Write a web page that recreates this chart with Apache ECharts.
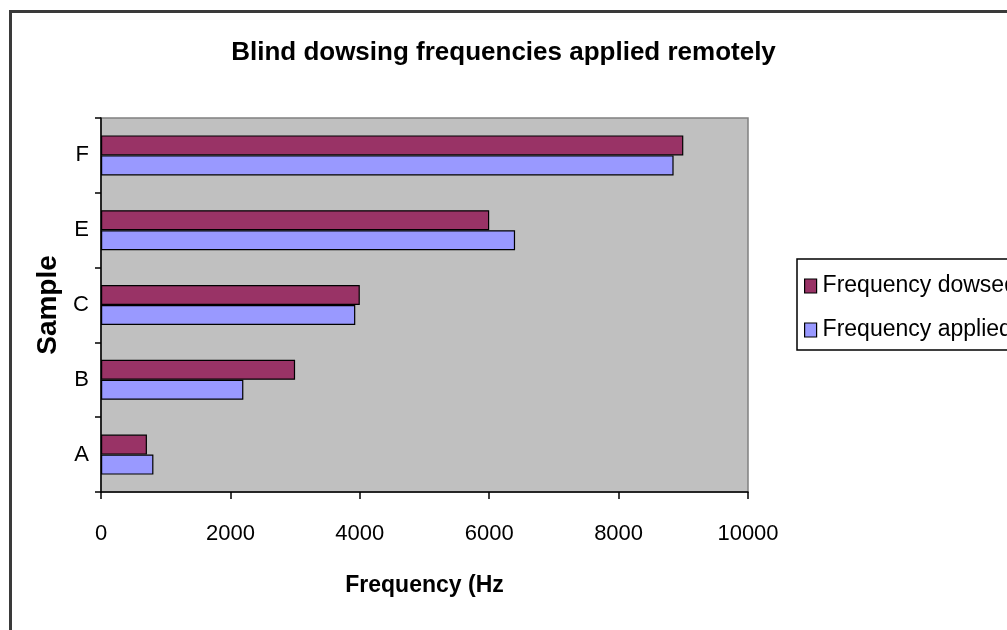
<!DOCTYPE html>
<html>
<head>
<meta charset="utf-8">
<title>Blind dowsing frequencies applied remotely</title>
<script src="https://cdn.jsdelivr.net/npm/echarts@6/dist/echarts.min.js"></script>
<style>
  html, body { margin: 0; padding: 0; background: #fff; }
  #chart { width: 1007px; height: 630px; }
</style>
</head>
<body>
<div id="chart"></div>
<script>
// Samples, bottom to top
const categories = ['A', 'B', 'C', 'E', 'F'];
// Frequencies in Hz
const dowsed = [710, 3000, 4000, 6000, 9000];
const applied = [810, 2200, 3930, 6400, 8850];
const xTicks = [0, 2000, 4000, 6000, 8000, 10000];

const font = '"Liberation Sans", Arial, sans-serif';

const chart = echarts.init(document.getElementById('chart'), null, { renderer: 'canvas' });

chart.setOption({
  animation: false,
  backgroundColor: '#ffffff',
  graphic: [{
    type: 'rect',
    shape: { x: 10.5, y: 11.5, width: 1200, height: 800 },
    style: { fill: 'none', stroke: '#3a3a3a', lineWidth: 3 },
    silent: true,
    z: 0
  }],
  title: {
    text: 'Blind dowsing frequencies applied remotely',
    left: 'center',
    top: 35,
    textStyle: { fontFamily: font, fontWeight: 'bold', fontSize: 26, color: '#000' }
  },
  legend: {
    orient: 'vertical',
    left: 797,
    top: 259,
    padding: [12, 60, 5, 7],
    itemGap: 14,
    itemWidth: 12,
    itemHeight: 14,
    icon: 'rect',
    itemStyle: { borderColor: '#000', borderWidth: 1.2 },
    backgroundColor: '#fff',
    borderColor: '#000',
    borderWidth: 1.5,
    textStyle: { fontFamily: font, fontSize: 23, color: '#000', lineHeight: 30, padding: [0, 0, 0, 1] },
    data: ['Frequency dowsed', 'Frequency applied']
  },
  grid: {
    left: 101,
    right: 259,
    top: 118,
    bottom: 138,
    show: true,
    backgroundColor: '#C0C0C0',
    borderColor: '#808080',
    borderWidth: 1.5
  },
  xAxis: {
    type: 'value',
    min: xTicks[0],
    max: xTicks[xTicks.length - 1],
    interval: xTicks[1] - xTicks[0],
    name: 'Frequency (Hz',
    nameLocation: 'middle',
    nameGap: 82,
    nameTextStyle: { fontFamily: font, fontWeight: 'bold', fontSize: 23, color: '#000' },
    axisLine: { show: true, lineStyle: { color: '#000', width: 1.5 } },
    axisTick: { show: true, length: 7, lineStyle: { color: '#000', width: 1.5 } },
    axisLabel: {
      margin: 31,
      fontFamily: font,
      fontSize: 22,
      color: '#000',
      formatter: (v) => String(v)
    },
    splitLine: { show: false }
  },
  yAxis: {
    type: 'category',
    data: categories,
    name: 'Sample',
    nameLocation: 'middle',
    nameRotate: 90,
    nameGap: 36,
    nameTextStyle: { fontFamily: font, fontWeight: 'bold', fontSize: 28, color: '#000' },
    axisLine: { show: true, lineStyle: { color: '#000', width: 1.5 } },
    axisTick: { show: true, length: 6, lineStyle: { color: '#000', width: 1.5 } },
    axisLabel: { margin: 12, fontFamily: font, fontSize: 22, color: '#000' },
    splitLine: { show: false }
  },
  series: [
    {
      name: 'Frequency dowsed',
      type: 'bar',
      data: dowsed,
      barWidth: 20,
      barGap: '0%',
      itemStyle: { color: '#993366', borderColor: '#000', borderWidth: 1.2 }
    },
    {
      name: 'Frequency applied',
      type: 'bar',
      data: applied,
      barWidth: 20,
      barGap: '0%',
      itemStyle: { color: '#9999FF', borderColor: '#000', borderWidth: 1.2 }
    }
  ]
});
</script>
</body>
</html>
